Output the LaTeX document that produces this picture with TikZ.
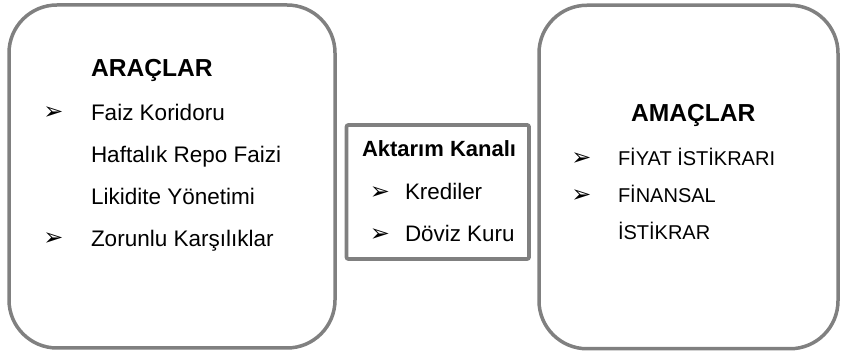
\documentclass[tikz,border=0pt]{standalone}
\usepackage{fontspec}
\setmainfont{Liberation Sans}
\newfontfamily\bulletfont{DejaVu Sans}
\definecolor{boxgray}{RGB}{128,128,128}
\begin{document}
\begin{tikzpicture}[x=1pt,y=-1pt,
  bigbox/.style={draw=boxgray, line width=3.5pt, rounded corners=48pt, rectangle, inner sep=0pt},
  midbox/.style={draw=boxgray, line width=3.8pt, rounded corners=2pt, rectangle, inner sep=0pt},
  txt/.style={anchor=base west, inner sep=0pt, outer sep=0pt},
  bul/.style={anchor=center, inner sep=0pt, font=\bulletfont\fontsize{24}{24}\selectfont},
  headL/.style={txt, font=\bfseries\fontsize{24.6}{26}\selectfont},
  itemL/.style={txt, font=\fontsize{22.5}{24}\selectfont},
  headM/.style={txt, font=\bfseries\fontsize{22}{24}\selectfont},
  itemM/.style={txt, font=\fontsize{22.4}{24}\selectfont},
  itemR/.style={txt, font=\fontsize{20}{22}\selectfont}]
\useasboundingbox (0,0) rectangle (841,352);
% boxes
\node[bigbox, minimum width=326pt, minimum height=343pt] (left) at (172,176.5) {};
\node[bigbox, minimum width=299pt, minimum height=343.5pt] (right) at (688.5,177) {};
\node[midbox, minimum width=182.5pt, minimum height=134pt] (mid) at (437.75,192) {};
% left box text
\node[headL] (lhead) at (91,77) {ARAÇLAR};
\node[bul] (lb1) at (53.5,113) {➢};
\node[itemL] (l1) at (91,121) {Faiz Koridoru};
\node[itemL] (l2) at (91,163) {Haftalık Repo Faizi};
\node[itemL] (l3) at (91,205) {Likidite Yönetimi};
\node[bul] (lb4) at (53.5,239) {➢};
\node[itemL] (l4) at (91,247) {Zorunlu Karşılıklar};
% middle box text
\node[headM] (mhead) at (362,157) {Aktarım Kanalı};
\node[bul] (mb1) at (380,193) {➢};
\node[itemM] (m1) at (405,200) {Krediler};
\node[bul] (mb2) at (380,235) {➢};
\node[itemM] (m2) at (405,242) {Döviz Kuru};
% right box text
\node[headL] (rhead) at (631,122) {AMAÇLAR};
\node[bul] (rb1) at (581.5,159) {➢};
\node[itemR] (r1) at (618,166) {FİYAT İSTİKRARI};
\node[bul] (rb2) at (581.5,196) {➢};
\node[itemR] (r2) at (618,203) {FİNANSAL};
\node[itemR] (r3) at (618,240) {İSTİKRAR};
\end{tikzpicture}
\end{document}
